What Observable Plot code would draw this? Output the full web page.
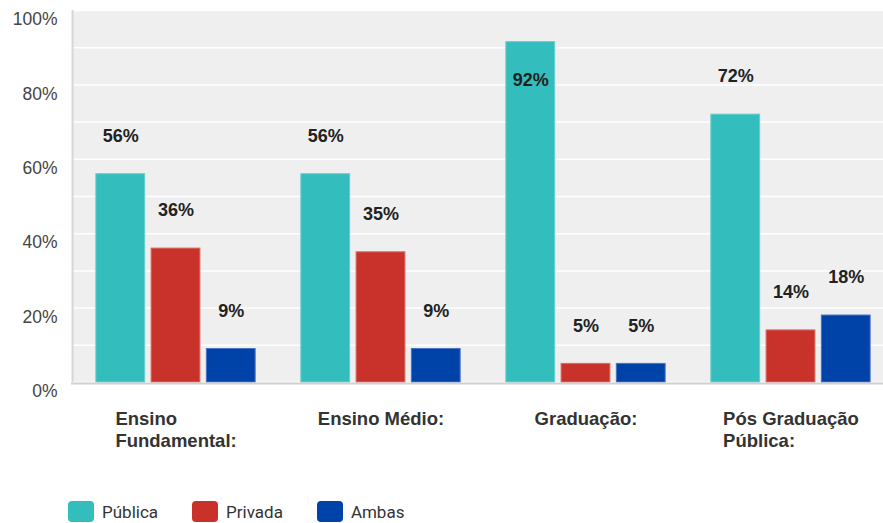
<!DOCTYPE html>
<html><head><meta charset="utf-8">
<script src="https://cdn.jsdelivr.net/npm/d3@7"></script>
<script src="https://cdn.jsdelivr.net/npm/@observablehq/plot@0.6"></script>
<style>
body{margin:0;background:#fff;overflow:hidden;width:883px;height:523px;}
svg{display:block;}
.legend{display:flex;align-items:center;height:21px;margin-top:3px;padding-left:68px;font-family:Roboto,"Noto Sans",sans-serif;font-size:17px;color:#333;}
.legend .item{display:flex;align-items:center;margin-right:34px;}
.legend .sw{width:26px;height:21px;border-radius:4px;margin-right:8px;}
</style>
</head><body>
<script>
const categories = ["Ensino\nFundamental:", "Ensino Médio:", "Graduação:", "Pós Graduação\nPública:"];
const series = ["Pública", "Privada", "Ambas"];
const publica = [56, 56, 91.5, 72];
const privada = [36, 35, 5, 14];
const ambas = [9, 9, 5, 18];
const yTicks = [0, 20, 40, 60, 80, 100];
const gridTicks = [0, 10, 20, 30, 40, 50, 60, 70, 80, 90, 100];
const colors = ["#33bdbd", "#c8322b", "#0043a8"];
const strokes = ["#66cfcf", "#dc6a62", "#4a72c2"];

const valuesBySeries = [publica, privada, ambas];
const rows = categories.flatMap((c, i) => series.map((s, k) => ({cat: c, series: s, value: valuesBySeries[k][i]})));

const xRange = [71.5, 894.3];
const bw = (xRange[1] - xRange[0]) / categories.length;
const barW = 49.5, step = 55.25;

const marks = [
  Plot.frame({fill: "#efefef"}),
  Plot.gridY(gridTicks, {stroke: "#ffffff", strokeOpacity: 1, strokeWidth: 1.5}),
  Plot.axisY(yTicks, {label: null, tickSize: 0, tickPadding: 14, tickFormat: d => d + "%", fontSize: 17.5, dy: 9}),
];
series.forEach((s, k) => {
  const off = (k - 1) * step;
  const data = rows.filter(d => d.series === s);
  marks.push(Plot.barY(data, {
    x: "cat", y: "value", fill: colors[k], stroke: strokes[k], strokeWidth: 1,
    insetLeft: bw / 2 + off - barW / 2, insetRight: bw / 2 - off - barW / 2
  }));
  marks.push(Plot.text(data, {
    filter: d => d.value <= 85, x: "cat", y: "value", text: d => Math.round(d.value) + "%",
    dx: off, dy: -38, fontSize: 18, fontWeight: "bold", fill: "#222"
  }));
  marks.push(Plot.text(data, {
    filter: d => d.value > 85, x: "cat", y: "value", text: d => Math.round(d.value) + "%",
    dx: off, dy: 38, fontSize: 18, fontWeight: "bold", fill: "#222"
  }));
});
marks.push(Plot.ruleY([0], {stroke: "#d0d0d0", strokeWidth: 2, dy: 1}));
marks.push(Plot.ruleX([categories[0]], {y1: 0, y2: 100, dx: -bw / 2 - 0.5, stroke: "#d8d8d8", strokeWidth: 2}));
marks.push(Plot.text(categories, {
  x: d => d, frameAnchor: "bottom", dy: 26, textAnchor: "start", lineAnchor: "top",
  lineHeight: 1.22, fontSize: 18.5, fontWeight: "bold", fill: "#333"
}));

const svg = Plot.plot({
  width: 883, height: 498,
  marginLeft: 71, marginRight: 0, marginTop: 10, marginBottom: 116,
  x: {type: "band", domain: categories, range: xRange, padding: 0, axis: null},
  y: {domain: [0, 100], axis: null},
  style: {fontFamily: "'Liberation Sans', Arial, sans-serif", background: "white", color: "#444", overflow: "hidden"},
  marks
});
document.body.append(svg);

// center each multi-line category block while keeping its lines left-aligned
const catTexts = new Set(categories.map(c => c.replace("\n", "")));
svg.querySelectorAll("text").forEach(t => {
  if (catTexts.has(t.textContent)) {
    const w = t.getBBox().width;
    t.setAttribute("transform", (t.getAttribute("transform") || "") + ` translate(${(-w / 2).toFixed(1)},0)`);
  }
});

const legend = document.createElement("div");
legend.className = "legend";
series.forEach((s, k) => {
  const item = document.createElement("div");
  item.className = "item";
  const sw = document.createElement("div");
  sw.className = "sw";
  sw.style.background = colors[k];
  const lab = document.createElement("span");
  lab.textContent = s;
  item.append(sw, lab);
  legend.append(item);
});
document.body.append(legend);
</script>
</body></html>
